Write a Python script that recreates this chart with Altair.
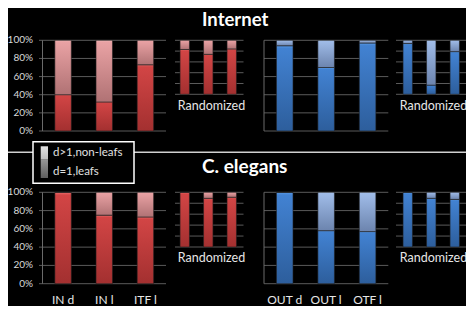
import altair as alt
import pandas as pd

# ---- data ----
cats_in = ["IN d", "IN l", "ITF l"]
cats_out = ["OUT d", "OUT l", "OTF l"]
ticks = [0, 20, 40, 60, 80, 100]
tick_labels = ["0%", "20%", "40%", "60%", "80%", "100%"]

internet_in_leaf = [40, 32, 73]
internet_in_rand_leaf = [83, 74, 84]
internet_out_leaf = [94, 70, 97]
internet_out_rand_leaf = [94, 17, 79]

celegans_in_leaf = [100, 75, 73]
celegans_in_rand_leaf = [100, 89, 91]
celegans_out_leaf = [100, 58, 57]
celegans_out_rand_leaf = [100, 89, 87]

legend_labels = ["d>1,non-leafs", "d=1,leafs"]
FONT = "Lato"
W, H = 458, 298


def grad(hl, top, bottom):
    return {
        "gradient": "linear", "x1": 0, "y1": 0, "x2": 0, "y2": 1,
        "stops": [
            {"offset": 0, "color": hl},
            {"offset": 0.03, "color": top},
            {"offset": 1, "color": bottom},
        ],
    }


RED = (grad("#ec7070", "#d24545", "#a33030"), grad("#f2b8b8", "#e9a2a4", "#b07274"))
BLUE = (grad("#5a9ae6", "#4282d2", "#2d5e9c"), grad("#b8d0f2", "#a0bce8", "#6c84ae"))

layers = []


def panel(cats, leaf, xr, yr, pal, grid_x0, axis_line=False):
    df = pd.DataFrame({"cat": cats, "lo": [0] * len(cats), "leaf": leaf,
                       "hi": [100] * len(cats)})
    xs = alt.Scale(domain=cats, range=xr, paddingInner=0.6, paddingOuter=0.3)
    ys = alt.Scale(domain=[0, 100], range=yr, nice=False, zero=False)
    gdf = pd.DataFrame({"t": ticks})
    layers.append(alt.Chart(gdf).mark_rule(color="#5a5a5a", strokeWidth=1).encode(
        y=alt.Y("t:Q", scale=ys, axis=None),
        x=alt.value(grid_x0), x2=alt.value(xr[1])))
    if axis_line:
        layers.append(alt.Chart(gdf.head(1)).mark_rule(color="#6a6a6a", strokeWidth=1).encode(
            x=alt.value(xr[0]), y=alt.value(yr[1]), y2=alt.value(yr[0])))
    layers.append(alt.Chart(df).mark_bar(fill=pal[0], stroke="#202020", strokeWidth=0.6).encode(
        x=alt.X("cat:N", scale=xs, axis=None),
        y=alt.Y("lo:Q", scale=ys, axis=None), y2="leaf:Q"))
    layers.append(alt.Chart(df).mark_bar(fill=pal[1], stroke="#202020", strokeWidth=0.6).encode(
        x=alt.X("cat:N", scale=xs, axis=None),
        y=alt.Y("leaf:Q", scale=ys, axis=None), y2="hi:Q"))
    return xs, ys


# panel geometry (plot coordinates)
TOP_MAIN = [123, 32.3]
TOP_RAND = [86.3, 32.3]
BOT_MAIN = [275.7, 184.3]
BOT_RAND = [239, 184.3]
RED_MAIN_X = [34.5, 158]
RED_RAND_X = [165, 235.5]
BLUE_MAIN_X = [256, 380.3]
BLUE_RAND_X = [388, 458.5]

_, ys_top = panel(cats_in, internet_in_leaf, RED_MAIN_X, TOP_MAIN, RED, 31, True)
panel(cats_in, internet_in_rand_leaf, RED_RAND_X, TOP_RAND, RED, 167)
panel(cats_out, internet_out_leaf, BLUE_MAIN_X, TOP_MAIN, BLUE, 256, True)
panel(cats_out, internet_out_rand_leaf, BLUE_RAND_X, TOP_RAND, BLUE, 388)

xs_bin, ys_bot = panel(cats_in, celegans_in_leaf, RED_MAIN_X, BOT_MAIN, RED, 31, True)
panel(cats_in, celegans_in_rand_leaf, RED_RAND_X, BOT_RAND, RED, 167)
xs_bout, _ = panel(cats_out, celegans_out_leaf, BLUE_MAIN_X, BOT_MAIN, BLUE, 256, True)
panel(cats_out, celegans_out_rand_leaf, BLUE_RAND_X, BOT_RAND, BLUE, 388)

# y tick labels
tdf = pd.DataFrame({"t": ticks, "lab": tick_labels})
for ys in (ys_top, ys_bot):
    layers.append(alt.Chart(tdf).mark_text(align="right", baseline="middle", fontSize=10,
                                           font=FONT, color="#d9d9d9").encode(
        y=alt.Y("t:Q", scale=ys, axis=None), x=alt.value(25), text="lab:N"))

# x labels (bottom row)
for cats, xs in ((cats_in, xs_bin), (cats_out, xs_bout)):
    layers.append(alt.Chart(pd.DataFrame({"cat": cats})).mark_text(
        baseline="alphabetic", fontSize=12, font=FONT, color="#e6e6e6").encode(
        x=alt.X("cat:N", scale=xs, axis=None), y=alt.value(296), text="cat:N"))


def label(txt, x, y, size, bold=False, align="center", baseline="middle", color="#e6e6e6"):
    layers.append(alt.Chart(pd.DataFrame({"t": [txt]})).mark_text(
        align=align, baseline=baseline, fontSize=size, font=FONT,
        fontWeight="bold" if bold else "normal", color=color).encode(
        x=alt.value(x), y=alt.value(y), text="t:N"))


# titles
label("Internet", 194, 18, 18.5, bold=True, align="left", baseline="alphabetic", color="white")
label("C. elegans", 194, 165, 19, bold=True, align="left", baseline="alphabetic", color="white")

# Randomized labels
for x in (203.5, 425.5):
    for y in (97.7, 250.3):
        label("Randomized", x, y, 12.5)

# separator line
layers.append(alt.Chart(pd.DataFrame({"a": [0]})).mark_rule(color="#d0d0d0", strokeWidth=1.5).encode(
    x=alt.value(0), x2=alt.value(W), y=alt.value(144.3)))

# legend box
layers.append(alt.Chart(pd.DataFrame({"a": [0]})).mark_rect(
    fill="black", stroke="white", strokeWidth=1.5).encode(
    x=alt.value(25), x2=alt.value(126), y=alt.value(133.7), y2=alt.value(175.3)))
layers.append(alt.Chart(pd.DataFrame({"a": [0]})).mark_rect(
    fill=grad("#e8e8e8", "#e0e0e0", "#bdbdbd")).encode(
    x=alt.value(32.7), x2=alt.value(40), y=alt.value(138.3), y2=alt.value(151.7)))
layers.append(alt.Chart(pd.DataFrame({"a": [0]})).mark_rect(
    fill=grad("#a0a0a0", "#959595", "#5e5e5e")).encode(
    x=alt.value(32.7), x2=alt.value(40), y=alt.value(151.7), y2=alt.value(170)))
label(legend_labels[0], 45, 145.3, 11.5, align="left", color="#e0e0e0")
label(legend_labels[1], 45, 163.7, 11.5, align="left", color="#e0e0e0")

chart = alt.layer(*layers).resolve_scale(
    x="independent", y="independent"
).properties(
    width=W, height=H, padding=0, autosize="none", background="black"
).configure_view(stroke=None)

chart.save("out.html", embed_options={"renderer": "svg", "actions": False})
